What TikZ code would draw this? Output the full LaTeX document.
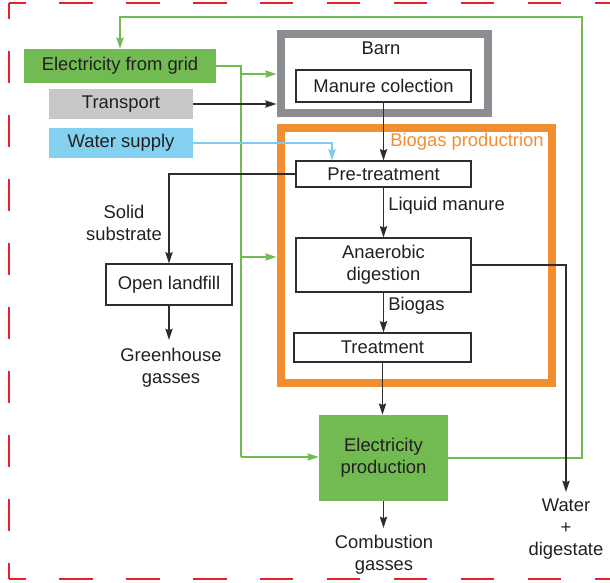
\documentclass[tikz,border=0pt]{standalone}
\usepackage{fontspec}
\setmainfont{Liberation Sans}
\usetikzlibrary{arrows.meta}
\definecolor{gridgreen}{RGB}{114,187,83}
\definecolor{trgrey}{RGB}{199,200,202}
\definecolor{wblue}{RGB}{132,208,240}
\definecolor{wline}{RGB}{127,203,239}
\definecolor{barngrey}{RGB}{140,141,145}
\definecolor{bioorange}{RGB}{242,142,48}
\definecolor{framered}{RGB}{232,32,42}
\definecolor{ink}{RGB}{35,31,32}
\definecolor{lineink}{RGB}{45,45,45}
\tikzset{
  txt/.style={font=\fontsize{13.8}{16.5}\selectfont, text=ink, align=center, inner sep=1.5pt},
  procbox/.style={txt, draw=lineink, line width=0.9pt, fill=white, inner sep=0pt},
  fillbox/.style={txt, inner sep=0pt},
  bigframe/.style={line width=6pt, inner sep=0pt, fill=white},
  tipk/.style={-{Stealth[length=8.5pt,width=5.5pt,inset=1.2pt]}},
  kline/.style={draw=lineink, line width=0.9pt},
  karrow/.style={kline, tipk, lineink},
  gline/.style={draw=gridgreen, line width=0.9pt},
  garrow/.style={gline, tipk, gridgreen},
  barrow/.style={draw=wline, line width=0.9pt, tipk, wline},
  reddash/.style={draw=framered, line width=1pt}
}
\begin{document}
\begin{tikzpicture}[x=0.75pt,y=-0.75pt]
\useasboundingbox (0,0) rectangle (610,582);
% outer dashed frame
\draw[reddash, dash pattern=on 25.1pt off 25.1pt, dash phase=12.55pt] (9,3) -- (612,3);
\draw[reddash, dash pattern=on 25.1pt off 25.1pt, dash phase=12.55pt] (9,579) -- (612,579);
\draw[reddash, dash pattern=on 24pt off 24pt, dash phase=12pt] (9,3) -- (9,579);
\draw[reddash, dash pattern=on 24pt off 24pt, dash phase=12pt] (612,3) -- (612,579);

% big frames
\node[bigframe, draw=barngrey, minimum width=155.25pt, minimum height=59.25pt] (barn) at (384,73.5) {};
\node[txt] (barnlbl) at (381,48) {Barn};
\node[bigframe, draw=bioorange, minimum width=203.6pt, minimum height=191.25pt] (bio) at (416.25,255) {};
\node[txt, text=bioorange, anchor=west, inner sep=0pt] (biolbl) at (390,142) {Biogas productrion};

% input boxes
\node[fillbox, fill=gridgreen, minimum width=144pt, minimum height=25.5pt] (grid) at (120,66) {Electricity from grid};
\node[fillbox, fill=trgrey, minimum width=108pt, minimum height=22.5pt] (transport) at (121,104) {Transport};
\node[fillbox, fill=wblue, minimum width=108pt, minimum height=22.5pt] (water) at (121,143) {Water supply};

% process boxes
\node[procbox, minimum width=131.25pt, minimum height=24pt] (manure) at (383.5,86) {Manure colection};
\node[procbox, minimum width=131.25pt, minimum height=19.5pt] (pre) at (383.5,174) {Pre-treatment};
\node[procbox, minimum width=131.25pt, minimum height=40.5pt] (anaer) at (383.5,265) {Anaerobic\\digestion};
\node[procbox, minimum width=132.75pt, minimum height=21.75pt] (treat) at (382.5,347.5) {Treatment};
\node[procbox, minimum width=94.5pt, minimum height=30.75pt] (landfill) at (169,284.5) {Open landfill};
\node[fillbox, fill=gridgreen, minimum width=96.75pt, minimum height=64.5pt] (eprod) at (383.5,458) {Electricity\\production};

% free texts
\node[txt] (solid) at (124,222.5) {Solid\\substrate};
\node[txt, anchor=north] (ghg) at (171,346) {Greenhouse\\gasses};
\node[txt, anchor=west, inner sep=0pt] (liq) at (388,206) {Liquid manure};
\node[txt, anchor=west, inner sep=0pt] (biogas) at (388,306) {Biogas};
\node[txt, anchor=north] (comb) at (384,533) {Combustion\\gasses};
\node[txt, anchor=north] (wd) at (566,497) {Water\\+\\digestate};

% helper coordinates
\coordinate (gx) at (241,457);
\coordinate (loopc) at (582,17);
\coordinate (wx) at (332,0);
\coordinate (g1) at (241,74);
\coordinate (g2) at (241,257);

% green connectors
\draw[gline] (grid.east) -| (gx);
\draw[garrow] (gx) -- (gx -| eprod.west);
\draw[garrow] (g1) -- (g1 -| barn.west);
\draw[garrow] (g2) -- (g2 -| bio.west);
\draw[garrow] (eprod.east) -| (loopc) -| (grid.north);

% transport and water
\draw[karrow] (transport.east) -- (transport.east -| barn.west);
\draw[barrow] (water.east) -| (wx |- pre.north);

% main flow
\draw[karrow] (manure.south) -- (manure.south |- pre.north);
\draw[karrow] (pre.south) -- (pre.south |- anaer.north);
\draw[karrow] (anaer.south) -- (anaer.south |- treat.north);
\draw[karrow] (treat.south) -- (treat.south |- eprod.north);
\draw[karrow, shorten >=3.75pt] (eprod.south) -- (eprod.south |- comb.north);
\draw[karrow] (pre.west) -| (landfill.north);
\draw[karrow, shorten >=4.5pt] (landfill.south) -- (landfill.south |- ghg.north);
\draw[karrow, shorten >=3.75pt] (anaer.east) -| (wd.north);
\end{tikzpicture}
\end{document}
